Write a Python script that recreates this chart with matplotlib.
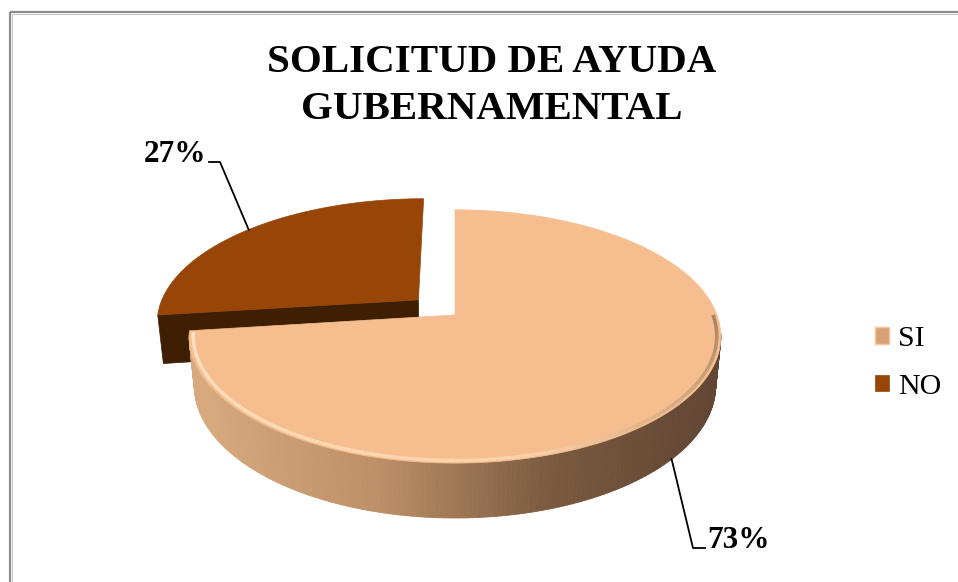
import numpy as np
import matplotlib
matplotlib.use("Agg")
import matplotlib.pyplot as plt
from matplotlib.patches import Polygon, Patch, Rectangle
from matplotlib.collections import PolyCollection, LineCollection
from matplotlib.colors import LinearSegmentedColormap

# ---------------- data ----------------
title_lines = ["SOLICITUD DE AYUDA", "GUBERNAMENTAL"]
categories = ["SI", "NO"]
values = [73, 27]
pct_labels = ["73%", "27%"]
explode = [0.0, 0.19]

# ---------------- style / layout ----------------
W, H = 958, 582
top_colors = ["#F6BE8E", "#984607"]
side_colors = ["#B58A64", "#3E1F03"]
wall_cmap = LinearSegmentedColormap.from_list(
    "wall", [(0.0, "#D8A97E"), (0.35, "#BE9068"), (0.7, "#7A5A40"), (1.0, "#634734")])
SERIF = "Liberation Serif"

CX, CY = 455.0, 315.0     # screen position of pie centre
F = 1365.0                # focal scale
D = 5.21                  # camera distance (in radii)
ELEV = np.deg2rad(28.0)
T = 0.214                 # thickness (in radii)
ce, se = np.cos(ELEV), np.sin(ELEV)


def proj(u, v, h):
    u = np.asarray(u, float); v = np.asarray(v, float); h = np.asarray(h, float)
    yc = h * ce + v * se
    zc = D + v * ce - h * se
    return CX + F * u / zc, CY - F * yc / zc


fig = plt.figure(figsize=(W / 100, H / 100), dpi=100)
ax = fig.add_axes([0, 0, 1, 1])
ax.set_xlim(0, W)
ax.set_ylim(H, 0)
ax.axis("off")

# outer chart border
ax.add_patch(Rectangle((10, 12), 1000, 620, fill=False, edgecolor="#8C8C8C", lw=1.6, zorder=0))
ax.add_patch(Rectangle((12, 14), 1000, 620, fill=False, edgecolor="#C8C8C8", lw=0.8, zorder=0))

# slice angles (start at 90 deg, clockwise)
total = float(sum(values))
starts, ends = [], []
a = 90.0
for val in values:
    sweep = 360.0 * val / total
    starts.append(a)
    ends.append(a - sweep)
    a -= sweep

slices = []
for i in range(len(values)):
    a0, a1 = starts[i], ends[i]
    mid = np.deg2rad((a0 + a1) / 2)
    ox, oy = explode[i] * np.cos(mid), explode[i] * np.sin(mid)
    th = np.deg2rad(np.linspace(a0, a1, 300))
    slices.append(dict(a0=a0, a1=a1, mid=mid, ox=ox, oy=oy, th=th))

front_limit = -ce / D   # wall faces the camera where sin(theta) < this

# drawing order: NO (back) then SI (front)
order = [1, 0]
for i in order:
    s = slices[i]
    ox, oy, th = s["ox"], s["oy"], s["th"]
    u = ox + np.cos(th); v = oy + np.sin(th)
    zb = 2 + 3 * (i == 0)
    # outer wall (front-facing part only)
    xt, yt = proj(u, v, 0)
    xb, yb = proj(u, v, -T)
    quads = []
    cols = []
    for k in range(len(th) - 1):
        if np.sin(0.5 * (th[k] + th[k + 1])) > front_limit + 0.02:
            continue
        quads.append([(xt[k], yt[k]), (xt[k + 1], yt[k + 1]), (xb[k + 1], yb[k + 1]), (xb[k], yb[k])])
        if i == 0:
            cols.append(wall_cmap(np.clip((0.5 * (xt[k] + xt[k + 1]) - 200) / 500, 0, 1)))
        else:
            cols.append(side_colors[i])
    if quads:
        ax.add_collection(PolyCollection(quads, facecolors=cols, edgecolors=cols, linewidths=0.6, zorder=zb))
    # radial face at the start edge (faces viewer for NO)
    if i == 1:
        ang = np.deg2rad(s["a0"])
        ue, ve = ox + np.cos(ang), oy + np.sin(ang)
        pts = [proj(ox, oy, 0), proj(ue, ve, 0), proj(ue, ve, -T), proj(ox, oy, -T)]
        ax.add_patch(Polygon([(float(p[0]), float(p[1])) for p in pts],
                             closed=True, facecolor=side_colors[i], edgecolor=side_colors[i],
                             lw=0.5, zorder=zb + 0.5))
    # top face
    cx0, cy0 = proj(ox, oy, 0)
    poly = [(float(cx0), float(cy0))] + list(zip(xt, yt))
    ax.add_patch(Polygon(poly, closed=True, facecolor=top_colors[i], edgecolor=top_colors[i],
                         lw=0.5, zorder=zb + 1))
    if i == 0:
        # bevel highlight along the front rim
        thr = np.deg2rad(np.linspace(188, 360, 200))
        rr = 0.985
        xr, yr = proj(ox + rr * np.cos(thr), oy + rr * np.sin(thr), 0)
        segs = [[(xr[k], yr[k]), (xr[k + 1], yr[k + 1])] for k in range(len(thr) - 1)]
        hl = LinearSegmentedColormap.from_list("hl", [(0, "#FFE3C6"), (0.55, "#FBD2AA"), (0.85, "#C49A74"), (1, "#A07C5E")])
        lc = LineCollection(segs, colors=[hl(k / len(segs)) for k in range(len(segs))],
                            linewidths=2.5, zorder=zb + 2)
        ax.add_collection(lc)

# ---------------- labels with leader lines ----------------
lab_font = dict(family=SERIF, fontweight="bold", fontsize=22.5, color="black")
# NO (27%) : anchor at top rim, label upper-left
s = slices[1]
ax_, ay_ = proj(s["ox"] + np.cos(s["mid"]), s["oy"] + np.sin(s["mid"]), 0)
ax.plot([float(ax_), 220, 209], [float(ay_), 162, 162], color="black", lw=1.3, zorder=9)
ax.text(206, 162, pct_labels[1], ha="right", va="baseline", zorder=10, **lab_font)
# SI (73%) : anchor at bottom rim, label lower-right
s = slices[0]
bx_, by_ = proj(s["ox"] + np.cos(s["mid"]), s["oy"] + np.sin(s["mid"]), -T)
ax.plot([float(bx_), 693, 705], [float(by_), 548, 548], color="black", lw=1.3, zorder=9)
ax.text(707, 548, pct_labels[0], ha="left", va="baseline", zorder=10, **lab_font)

# ---------------- title ----------------
ax.text(491.5, 72, title_lines[0], ha="center", va="baseline", family=SERIF,
        fontweight="bold", fontsize=29.5, color="black")
ax.text(491.5, 119, title_lines[1], ha="center", va="baseline", family=SERIF,
        fontweight="bold", fontsize=29.5, color="black")

# ---------------- legend ----------------
handles = [Patch(facecolor="#D9A275", edgecolor="#F3C79C", lw=1.0),
           Patch(facecolor=top_colors[1], edgecolor=top_colors[1], lw=0.5)]
ax.legend(handles, categories, loc="center left", bbox_to_anchor=(875, 363),
          bbox_transform=ax.transData, frameon=False,
          prop=dict(family=SERIF, size=21.5), handlelength=0.48, handleheight=0.48,
          handletextpad=0.3, labelspacing=0.72, borderpad=0, borderaxespad=0)

fig.savefig("out.png", dpi=100)
